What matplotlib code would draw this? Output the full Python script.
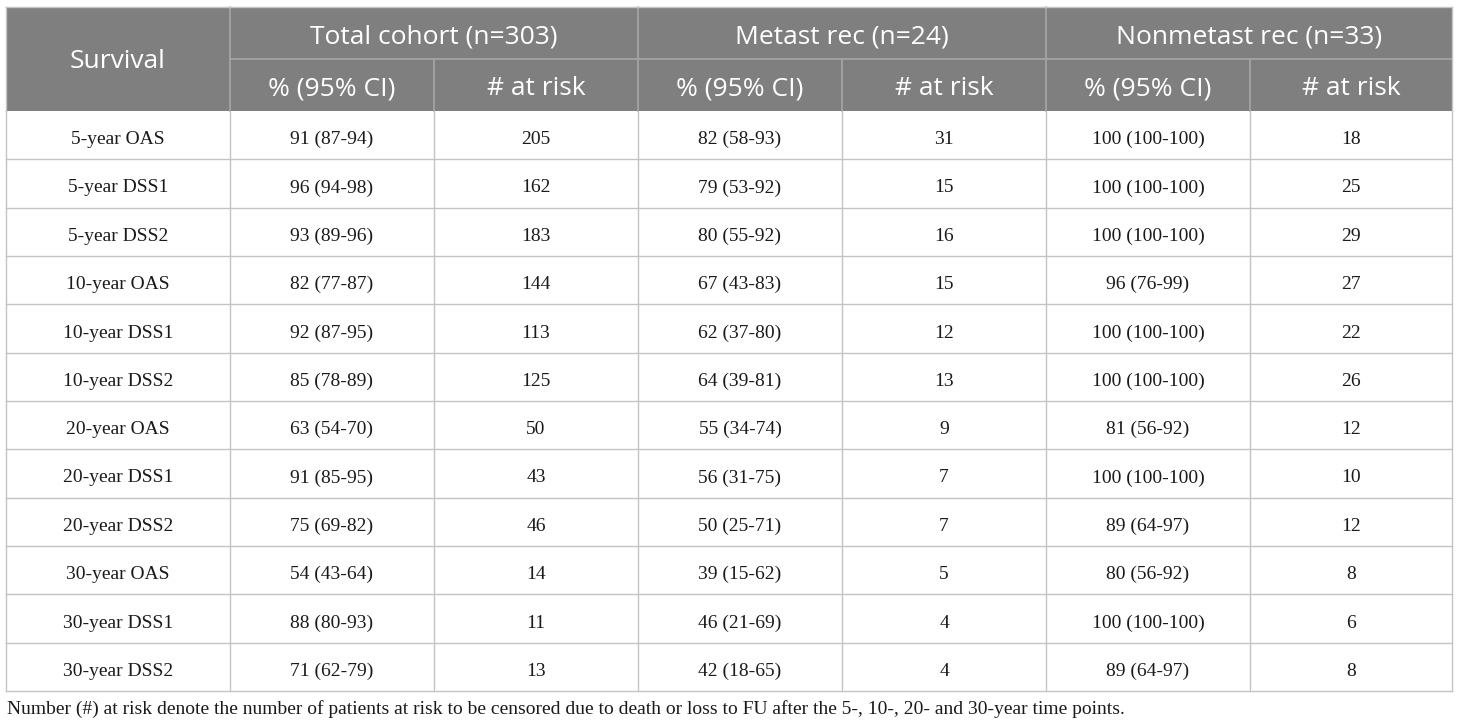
import matplotlib
matplotlib.use("Agg")
import matplotlib.pyplot as plt
from matplotlib.patches import Rectangle

rows = ["5-year OAS", "5-year DSS1", "5-year DSS2", "10-year OAS", "10-year DSS1", "10-year DSS2",
        "20-year OAS", "20-year DSS1", "20-year DSS2", "30-year OAS", "30-year DSS1", "30-year DSS2"]
total_pct = ["91 (87-94)", "96 (94-98)", "93 (89-96)", "82 (77-87)", "92 (87-95)", "85 (78-89)",
             "63 (54-70)", "91 (85-95)", "75 (69-82)", "54 (43-64)", "88 (80-93)", "71 (62-79)"]
total_risk = [205, 162, 183, 144, 113, 125, 50, 43, 46, 14, 11, 13]
met_pct = ["82 (58-93)", "79 (53-92)", "80 (55-92)", "67 (43-83)", "62 (37-80)", "64 (39-81)",
           "55 (34-74)", "56 (31-75)", "50 (25-71)", "39 (15-62)", "46 (21-69)", "42 (18-65)"]
met_risk = [31, 15, 16, 15, 12, 13, 9, 7, 7, 5, 4, 4]
non_pct = ["100 (100-100)", "100 (100-100)", "100 (100-100)", "96 (76-99)", "100 (100-100)", "100 (100-100)",
           "81 (56-92)", "100 (100-100)", "89 (64-97)", "80 (56-92)", "100 (100-100)", "89 (64-97)"]
non_risk = [18, 25, 29, 27, 22, 26, 12, 10, 12, 8, 6, 8]

group_titles = ["Total cohort (n=303)", "Metast rec (n=24)", "Nonmetast rec (n=33)"]
sub_titles = ["% (95% CI)", "# at risk"]
first_title = "Survival"
footnote = ("Number (#) at risk denote the number of patients at risk to be censored due to death or "
            "loss to FU after the 5-, 10-, 20- and 30-year time points.")

W, H = 1460, 728
fig = plt.figure(figsize=(W / 100, H / 100), dpi=100)
ax = fig.add_axes([0, 0, 1, 1])
ax.set_xlim(0, W)
ax.set_ylim(H, 0)
ax.axis("off")

x0, x1 = 6, 1452
col_edges = [6, 230, 434, 638, 842, 1046, 1250, 1452]
y_top, y_mid, y_hdr = 7, 59, 111
y_bot = 691
n = len(rows)
rh = (y_bot - y_hdr) / n

hdr_bg = "#7f7f7f"
hdr_line = "#a6a6a6"
body_line = "#c4c4c4"
sans = ["Open Sans", "DejaVu Sans"]
serif = ["Liberation Serif", "DejaVu Serif"]

ax.add_patch(Rectangle((x0, y_top), x1 - x0, y_hdr - y_top, color=hdr_bg, lw=0, zorder=1))

# header lines
ax.plot([col_edges[1], x1], [y_mid, y_mid], color=hdr_line, lw=1.2, zorder=2)
for xe in [col_edges[1], col_edges[3], col_edges[5]]:
    ax.plot([xe, xe], [y_top, y_hdr], color=hdr_line, lw=1.2, zorder=2)
for xe in [col_edges[2], col_edges[4], col_edges[6]]:
    ax.plot([xe, xe], [y_mid, y_hdr], color=hdr_line, lw=1.2, zorder=2)

# header text
hfs = 19
ax.text((col_edges[0] + col_edges[1]) / 2, 68, first_title, color="white",
        fontsize=hfs, family=sans, ha="center", va="baseline", zorder=3)
for g, t in enumerate(group_titles):
    xa, xb = col_edges[1 + 2 * g], col_edges[3 + 2 * g]
    ax.text((xa + xb) / 2, 43, t, color="white", fontsize=hfs, family=sans,
            ha="center", va="baseline", zorder=3)
    for s, st in enumerate(sub_titles):
        xa2, xb2 = col_edges[1 + 2 * g + s], col_edges[2 + 2 * g + s]
        ax.text((xa2 + xb2) / 2, 95, st, color="white", fontsize=hfs, family=sans,
                ha="center", va="baseline", zorder=3)

# body lines
for i in range(1, n + 1):
    y = y_hdr + i * rh
    ax.plot([x0, x1], [y, y], color=body_line, lw=1.0, zorder=2)
for xe in col_edges:
    ax.plot([xe, xe], [y_hdr, y_bot], color=body_line, lw=1.0, zorder=2)
ax.plot([x0, x0], [y_top, y_hdr], color=body_line, lw=1.0, zorder=2)
ax.plot([x1, x1], [y_top, y_hdr], color=body_line, lw=1.0, zorder=2)
ax.plot([x0, x1], [y_top, y_top], color=body_line, lw=1.0, zorder=2)

cols = [rows, total_pct, total_risk, met_pct, met_risk, non_pct, non_risk]
bfs = 14
for c, vals in enumerate(cols):
    xc = (col_edges[c] + col_edges[c + 1]) / 2
    for i, v in enumerate(vals):
        yb = y_hdr + (i + 0.5) * rh + 9
        ax.text(xc, yb, str(v), color="#1a1a1a", fontsize=bfs, family=serif,
                ha="center", va="baseline", zorder=3)

ax.text(x0 + 1, 714, footnote, color="#1a1a1a", fontsize=14, family=serif, ha="left", va="baseline")

fig.savefig("out.png", dpi=100)
